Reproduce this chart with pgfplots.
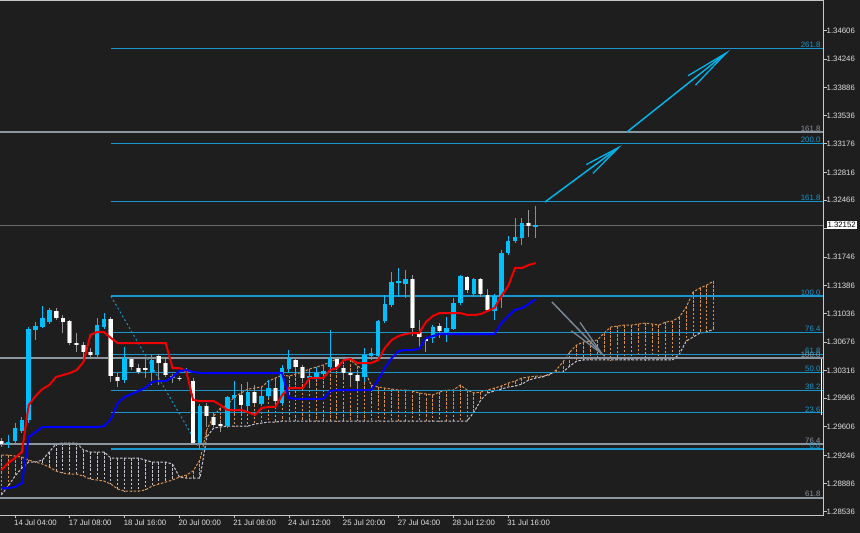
\documentclass[border=0pt]{standalone}
\usepackage{pgfplots}
\pgfplotsset{compat=1.18}
\usepackage{pgfplotstable}
\usepackage{fontspec}
\setmainfont{Liberation Sans}
\usetikzlibrary{arrows.meta}

\definecolor{bg}{RGB}{30,30,30}
\definecolor{bullc}{RGB}{0,191,255}
\definecolor{wickgray}{RGB}{150,150,150}
\definecolor{fibc}{RGB}{25,150,205}
\definecolor{fibgray}{RGB}{140,150,160}
\definecolor{pricegray}{RGB}{105,105,105}
\definecolor{tenkan}{RGB}{240,0,0}
\definecolor{kijun}{RGB}{0,0,255}
\definecolor{spanA}{RGB}{215,145,80}
\definecolor{spanB}{RGB}{200,195,210}
\definecolor{arrowc}{RGB}{0,180,235}
\definecolor{arrowgray}{RGB}{120,135,150}
\definecolor{axiscol}{RGB}{200,200,200}
\definecolor{textcol}{RGB}{225,225,225}

\pgfplotstableread{
i O H L C
-1 1.29389 1.29502 1.29338 1.29414
0 1.29426 1.29653 1.29401 1.29590
1 1.29552 1.29730 1.29527 1.29691
2 1.29691 1.30865 1.29653 1.30839
3 1.30827 1.30928 1.30701 1.30877
4 1.30865 1.31130 1.30852 1.30979
5 1.30928 1.31105 1.30903 1.31080
12 1.30512 1.30979 1.30487 1.30890
13 1.30865 1.31042 1.30839 1.30966
16 1.30196 1.30613 1.30158 1.30474
20 1.30297 1.30512 1.30133 1.30449
27 1.29401 1.29893 1.29326 1.29868
31 1.29615 1.29994 1.29590 1.29982
32 1.29969 1.30183 1.29818 1.30007
34 1.29868 1.30171 1.29818 1.30045
36 1.29894 1.30095 1.29868 1.29994
37 1.29994 1.30196 1.29969 1.30095
39 1.29906 1.30386 1.29881 1.30348
40 1.30335 1.30575 1.30284 1.30474
43 1.30221 1.30297 1.30108 1.30246
44 1.30234 1.30360 1.30196 1.30284
45 1.30272 1.30386 1.30234 1.30310
46 1.30360 1.30827 1.30322 1.30474
51 1.30234 1.30600 1.30171 1.30512
52 1.30499 1.30600 1.30449 1.30537
53 1.30499 1.30953 1.30474 1.30940
54 1.30940 1.31269 1.30915 1.31156
55 1.31143 1.31560 1.31118 1.31433
56 1.31420 1.31610 1.31244 1.31446
57 1.31408 1.31585 1.31231 1.31471
61 1.30726 1.30890 1.30663 1.30865
63 1.30802 1.30991 1.30676 1.30852
64 1.30839 1.31231 1.30827 1.31168
65 1.31168 1.31522 1.31143 1.31509
67 1.31282 1.31484 1.31244 1.31471
70 1.31067 1.31282 1.30953 1.31256
71 1.31256 1.31837 1.31105 1.31799
72 1.31799 1.32013 1.31774 1.31950
73 1.31950 1.32241 1.31925 1.32001
74 1.31988 1.32241 1.31900 1.32178
76 1.32127 1.32392 1.31988 1.32152
}\bull

\pgfplotstableread{
i O H L C
-2 1.29426 1.29464 1.29351 1.29389
6 1.31067 1.31105 1.30953 1.30979
7 1.30979 1.31017 1.30789 1.30928
8 1.30940 1.30953 1.30638 1.30663
9 1.30663 1.30789 1.30550 1.30638
10 1.30638 1.30676 1.30449 1.30550
11 1.30550 1.30600 1.30487 1.30512
14 1.30966 1.30991 1.30171 1.30246
15 1.30234 1.30284 1.30108 1.30183
17 1.30461 1.30474 1.30322 1.30360
18 1.30348 1.30398 1.30272 1.30297
19 1.30348 1.30474 1.30221 1.30322
21 1.30499 1.30525 1.30133 1.30411
22 1.30411 1.30487 1.30234 1.30259
23 1.30246 1.30272 1.30158 1.30221
24 1.30221 1.30246 1.30183 1.30208
25 1.30322 1.30348 1.30259 1.30297
26 1.30183 1.30221 1.29389 1.29401
28 1.29868 1.29906 1.29603 1.29742
29 1.29730 1.29780 1.29603 1.29628
30 1.29640 1.29678 1.29540 1.29615
33 1.30007 1.30145 1.29755 1.29881
35 1.30045 1.30133 1.29881 1.29906
38 1.30095 1.30196 1.29906 1.29931
41 1.30449 1.30474 1.30259 1.30360
42 1.30360 1.30386 1.30158 1.30221
47 1.30461 1.30487 1.30322 1.30360
48 1.30348 1.30373 1.30221 1.30284
49 1.30284 1.30310 1.30120 1.30259
50 1.30259 1.30284 1.30108 1.30183
58 1.31471 1.31522 1.30751 1.30852
59 1.30802 1.30953 1.30600 1.30739
60 1.30713 1.30726 1.30550 1.30688
62 1.30877 1.30915 1.30726 1.30814
66 1.31496 1.31509 1.31294 1.31332
68 1.31471 1.31484 1.31244 1.31282
69 1.31269 1.31345 1.31055 1.31080
75 1.32178 1.32342 1.32001 1.32140
}\bear

\pgfplotstableread{
i T K
-2 1.29060 1.28833
-1 1.29149 1.28833
0 1.29212 1.28846
1 1.29288 1.28896
2 1.29881 1.29477
3 1.29994 1.29540
4 1.30082 1.29603
5 1.30133 1.29603
6 1.30234 1.29603
7 1.30259 1.29603
8 1.30284 1.29603
9 1.30322 1.29603
10 1.30424 1.29603
11 1.30764 1.29603
12 1.30802 1.29603
13 1.30802 1.29615
14 1.30726 1.29704
15 1.30663 1.29906
16 1.30663 1.29982
17 1.30663 1.30020
18 1.30663 1.30058
19 1.30663 1.30095
20 1.30663 1.30171
21 1.30663 1.30183
22 1.30663 1.30183
23 1.30348 1.30234
24 1.30348 1.30310
25 1.30310 1.30322
26 1.29944 1.30297
27 1.29931 1.30284
28 1.29931 1.30284
29 1.29931 1.30284
30 1.29881 1.30284
31 1.29818 1.30284
32 1.29818 1.30284
33 1.29818 1.30284
34 1.29792 1.30284
35 1.29755 1.30284
36 1.29843 1.30284
37 1.29856 1.30284
38 1.29856 1.30284
39 1.30007 1.30284
40 1.30095 1.29969
41 1.30095 1.29957
42 1.30095 1.29957
43 1.30221 1.29957
44 1.30221 1.29957
45 1.30221 1.29957
46 1.30322 1.30058
47 1.30348 1.30070
48 1.30449 1.30070
49 1.30461 1.30070
50 1.30411 1.30070
51 1.30411 1.30070
52 1.30411 1.30070
53 1.30449 1.30196
54 1.30600 1.30348
55 1.30701 1.30474
56 1.30751 1.30562
57 1.30777 1.30575
58 1.30789 1.30575
59 1.30789 1.30588
60 1.30928 1.30726
61 1.31004 1.30751
62 1.31042 1.30777
63 1.31042 1.30777
64 1.31042 1.30777
65 1.31042 1.30777
66 1.31017 1.30777
67 1.31017 1.30777
68 1.31029 1.30777
69 1.31067 1.30777
70 1.31105 1.30777
71 1.31256 1.30915
72 1.31382 1.31004
73 1.31610 1.31080
74 1.31610 1.31105
75 1.31648 1.31156
76 1.31673 1.31219
}\ichi

\pgfplotstableread{
j A B
-2 1.29250 1.28745
-1 1.29250 1.28858
0 1.29237 1.28984
1 1.29224 1.29086
2 1.29187 1.29161
3 1.29161 1.29161
4 1.29136 1.29187
5 1.29098 1.29288
6 1.29047 1.29389
7 1.29022 1.29401
8 1.29009 1.29401
9 1.29009 1.29401
10 1.28984 1.29313
11 1.28946 1.29288
12 1.28934 1.29288
13 1.28921 1.29288
14 1.28883 1.29212
15 1.28820 1.29212
16 1.28795 1.29212
17 1.28795 1.29212
18 1.28795 1.29212
19 1.28808 1.29187
20 1.28858 1.29161
21 1.28883 1.29161
22 1.28909 1.29161
23 1.28934 1.29136
24 1.28971 1.28971
25 1.28997 1.28959
26 1.29047 1.28959
27 1.29187 1.28959
28 1.29565 1.29477
29 1.29742 1.29590
30 1.29843 1.29603
31 1.29881 1.29615
32 1.29982 1.29615
33 1.30032 1.29615
34 1.30082 1.29615
35 1.30095 1.29641
36 1.30108 1.29653
37 1.30183 1.29666
38 1.30221 1.29666
39 1.30259 1.29678
40 1.30246 1.29678
41 1.30272 1.29678
42 1.30297 1.29678
43 1.30335 1.29678
44 1.30360 1.29678
45 1.30386 1.29678
46 1.30424 1.29678
47 1.30461 1.29678
48 1.30487 1.29678
49 1.30449 1.29678
50 1.30373 1.29678
51 1.30322 1.29678
52 1.30133 1.29678
53 1.30108 1.29678
54 1.30095 1.29678
55 1.30082 1.29678
56 1.30070 1.29678
57 1.30070 1.29678
58 1.30058 1.29678
59 1.30032 1.29678
60 1.30020 1.29678
61 1.30007 1.29678
62 1.30045 1.29678
63 1.30070 1.29678
64 1.30070 1.29678
65 1.30133 1.29678
66 1.30070 1.29678
67 1.30032 1.29792
68 1.30045 1.29944
69 1.30070 1.30032
70 1.30095 1.30058
71 1.30120 1.30082
72 1.30158 1.30108
73 1.30183 1.30120
74 1.30221 1.30145
75 1.30234 1.30196
76 1.30246 1.30221
77 1.30246 1.30234
78 1.30259 1.30272
79 1.30322 1.30297
80 1.30424 1.30297
81 1.30550 1.30373
82 1.30638 1.30436
83 1.30676 1.30449
84 1.30688 1.30449
85 1.30701 1.30449
86 1.30789 1.30449
87 1.30865 1.30449
88 1.30877 1.30449
89 1.30890 1.30449
90 1.30890 1.30449
91 1.30903 1.30449
92 1.30915 1.30449
93 1.30903 1.30449
94 1.30890 1.30449
95 1.30928 1.30449
96 1.30940 1.30449
97 1.30991 1.30525
98 1.31118 1.30688
99 1.31307 1.30739
100 1.31357 1.30789
101 1.31395 1.30802
102 1.31445 1.30839
}\cloud

\newcommand{\lab}{\fontsize{7.8}{9}\selectfont}

\begin{document}
\begin{tikzpicture}
\useasboundingbox (0,-18pt) rectangle (860pt,515pt);
\fill[bg] (0,-18pt) rectangle (860pt,515pt);
\begin{axis}[
  at={(0,0)}, anchor=south west,
  width=823pt, height=515pt, scale only axis,
  xmin=-2.19, xmax=117.96, ymin=1.28493, ymax=1.34992,
  clip=false,
  axis line style={draw=none},
  scaled ticks=false,
  xtick={0,8,16,24,32,40,48,56,64,72},
  xticklabels={14 Jul 04:00,17 Jul 08:00,18 Jul 16:00,20 Jul 00:00,21 Jul 08:00,24 Jul 12:00,25 Jul 20:00,27 Jul 04:00,28 Jul 12:00,31 Jul 16:00},
  ytick={1.28536,1.28886,1.29246,1.29606,1.29966,1.30316,1.30676,1.31036,1.31386,1.31746,1.32106,1.32466,1.32816,1.33176,1.33536,1.33886,1.34246,1.34606},
  yticklabels={1.28536,1.28886,1.29246,1.29606,1.29966,1.30316,1.30676,1.31036,1.31386,1.31746,,1.32466,1.32816,1.33176,1.33536,1.33886,1.34246,1.34606},
  xtick pos=left, ytick pos=right, yticklabel pos=right,
  tick align=outside, major tick length=3.5pt,
  tick style={draw=axiscol, line width=0.8pt},
  x tick label style={anchor=north west, inner sep=0pt, xshift=-1pt, yshift=-1pt, font=\lab, text=textcol},
  y tick label style={anchor=west, inner sep=0pt, xshift=0pt, font=\lab, text=textcol},
  candle/.style={draw=none, mark=none, forget plot, error bars/.cd, y dir=minus, y explicit, error mark=none},
]
% cloud hatching
\addplot[candle, error bar style={draw=spanA, line width=0.9pt, dash pattern=on 2.5pt off 1.6pt}]
  table[x=j, y=A, y error expr={max(\thisrow{A}-\thisrow{B},0)}] {\cloud};
\addplot[candle, error bar style={draw=spanB, line width=0.9pt, dash pattern=on 2.5pt off 1.6pt}]
  table[x=j, y=B, y error expr={max(\thisrow{B}-\thisrow{A},0)}] {\cloud};
\addplot[spanA, line width=1pt, dash pattern=on 2.5pt off 1.6pt] table[x=j, y=A] {\cloud};
\addplot[spanB, line width=1pt, dash pattern=on 2.5pt off 1.6pt] table[x=j, y=B] {\cloud};

% gray fibonacci extension and price line
\addplot[fibgray, line width=2pt] coordinates {(-2.19,1.33326) (117.96,1.33326)};
\addplot[fibgray, line width=2pt] coordinates {(-2.19,1.30474) (117.96,1.30474)};
\addplot[fibgray, line width=2pt] coordinates {(-2.19,1.29385) (117.96,1.29385)};
\addplot[fibgray, line width=2pt] coordinates {(-2.19,1.28711) (117.96,1.28711)};
\addplot[pricegray, line width=1pt] coordinates {(-2.19,1.32152) (117.96,1.32152)};

% cyan fibonacci levels
\addplot[fibc, line width=1.1pt] coordinates {(14,1.34379) (117.96,1.34379)};
\addplot[fibc, line width=1.1pt] coordinates {(14,1.33186) (117.96,1.33186)};
\addplot[fibc, line width=1.1pt] coordinates {(14,1.32449) (117.96,1.32449)};
\addplot[fibc, line width=1.1pt] coordinates {(14,1.31256) (117.96,1.31256)};
\addplot[fibc, line width=1.1pt] coordinates {(14,1.30801) (117.96,1.30801)};
\addplot[fibc, line width=1.1pt] coordinates {(14,1.30519) (117.96,1.30519)};
\addplot[fibc, line width=1.1pt] coordinates {(14,1.30291) (117.96,1.30291)};
\addplot[fibc, line width=1.1pt] coordinates {(14,1.30063) (117.96,1.30063)};
\addplot[fibc, line width=1.1pt] coordinates {(14,1.29781) (117.96,1.29781)};
\addplot[fibc, line width=1.1pt] coordinates {(14,1.29326) (117.96,1.29326)};
\addplot[fibc, line width=1pt, dash pattern=on 2pt off 2.5pt] coordinates {(14,1.31256) (27,1.29326)};

% candles: wicks
\addplot[candle, error bar style={draw=bullc, line width=1pt}]
  table[x=i, y=H, y error expr=\thisrow{H}-\thisrow{L}] {\bull};
\addplot[candle, error bar style={draw=wickgray, line width=1pt}]
  table[x=i, y=H, y error expr=\thisrow{H}-\thisrow{L}] {\bear};
% candles: bodies
\addplot[candle, error bar style={draw=bullc, line width=4.6pt}]
  table[x=i, y=C, y error expr=\thisrow{C}-\thisrow{O}] {\bull};
\addplot[candle, error bar style={draw=wickgray, line width=4.8pt}]
  table[x=i, y=O, y error expr=\thisrow{O}-\thisrow{C}] {\bear};
\addplot[candle, error bar style={draw=white, line width=3.4pt}]
  table[x=i, y=O, y error expr=\thisrow{O}-\thisrow{C}] {\bear};

% ichimoku lines
\addplot[tenkan, line width=2pt] table[x=i, y=T] {\ichi};
\addplot[kijun, line width=2pt] table[x=i, y=K] {\ichi};

% arrows
\addplot[arrowc, line width=1.5pt, -{Straight Barb[length=36pt, width=11pt, line width=1.3pt]}] coordinates {(77.37,1.32443) (88.61,1.33162)};
\addplot[arrowc, line width=1.5pt, -{Straight Barb[length=44pt, width=12pt, line width=1.3pt]}] coordinates {(89.34,1.33326) (104.38,1.34361)};
\addplot[arrowgray, line width=1.5pt, -{Straight Barb[length=38pt, width=12pt, line width=1.3pt]}] coordinates {(78.39,1.31181) (86.13,1.30487)};

% selection marker
\draw[white, line width=1pt] (axis cs:117.75,1.30462) -- (axis cs:117.75,1.29755);

% frame
\draw[axiscol, line width=0.8pt] (rel axis cs:0,1) -- (rel axis cs:1,1) -- (rel axis cs:1,0) -- (rel axis cs:0,0);

% labels of levels
\begin{scope}[every node/.style={anchor=south east, inner sep=0.6pt, font=\lab}]
\node[text=fibc] at (axis cs:117.7,1.34379) {261.8};
\node[text=fibc] at (axis cs:117.7,1.33186) {200.0};
\node[text=fibc] at (axis cs:117.7,1.32449) {161.8};
\node[text=fibc] at (axis cs:117.7,1.31256) {100.0};
\node[text=fibc] at (axis cs:117.7,1.30801) {76.4};
\node[text=fibgray] at (axis cs:117.7,1.30474) {100.0};
\node[text=fibc] at (axis cs:117.7,1.30519) {61.8};
\node[text=fibc] at (axis cs:117.7,1.30291) {50.0};
\node[text=fibc] at (axis cs:117.7,1.30063) {38.2};
\node[text=fibc] at (axis cs:117.7,1.29781) {23.6};
\node[text=fibgray] at (axis cs:117.7,1.29385) {76.4};
\node[text=fibc] at (axis cs:117.7,1.29326) {0.0};
\node[text=fibgray] at (axis cs:117.7,1.33326) {161.8};
\node[text=fibgray] at (axis cs:117.7,1.28711) {61.8};
\end{scope}
\node[anchor=west, fill=white, text=black, inner xsep=1pt, inner ysep=1.5pt, font=\lab] at (axis cs:118.45,1.32152) {1.32152};
\end{axis}
\end{tikzpicture}
\end{document}
